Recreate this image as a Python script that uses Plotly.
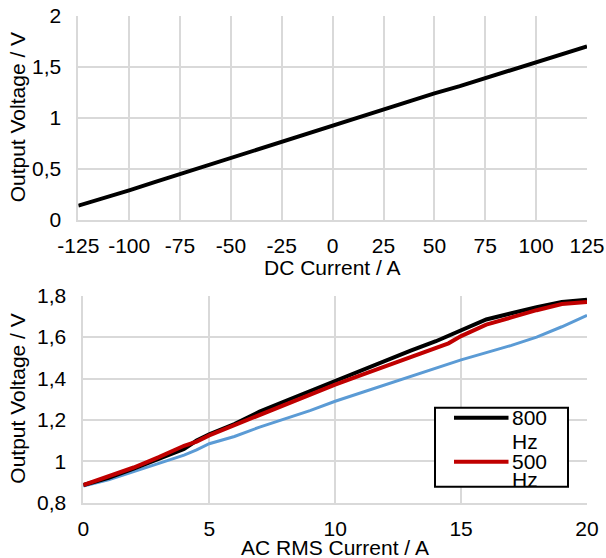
import plotly.graph_objects as go

# ---- Top chart: DC ----
dc_current = [-125, -112.5, -100, -87.5, -75, -62.5, -50, -37.5, -25, -12.5, 0,
              12.5, 25, 37.5, 50, 62.5, 75, 87.5, 100, 112.5, 125]
dc_voltage = [0.14, 0.21, 0.29, 0.37, 0.45, 0.52, 0.60, 0.68, 0.76, 0.84, 0.92,
              1.00, 1.08, 1.16, 1.24, 1.31, 1.39, 1.47, 1.55, 1.63, 1.70]

dc_xticks = [-125, -100, -75, -50, -25, 0, 25, 50, 75, 100, 125]
dc_xticktext = ["-125", "-100", "-75", "-50", "-25", "0", "25", "50", "75", "100", "125"]
dc_yticks = [0, 0.5, 1, 1.5, 2]
dc_yticktext = ["0", "0,5", "1", "1,5", "2"]

# ---- Bottom chart: AC ----
ac_current = [0, 1, 2, 3, 4, 4.5, 5, 6, 7, 8, 9, 10, 11, 12, 13, 14, 14.5, 15, 16, 17, 18, 19, 20]
v_800hz = [0.885, 0.92, 0.965, 1.01, 1.06, 1.10, 1.13, 1.18, 1.24, 1.29, 1.34, 1.39,
           1.44, 1.49, 1.535, 1.58, 1.605, 1.635, 1.685, 1.715, 1.745, 1.77, 1.78]
v_500hz = [0.885, 0.925, 0.97, 1.02, 1.075, 1.095, 1.125, 1.175, 1.225, 1.275, 1.325, 1.37,
           1.415, 1.46, 1.505, 1.545, 1.57, 1.605, 1.66, 1.695, 1.73, 1.76, 1.77]
v_third = [0.88, 0.91, 0.95, 0.99, 1.03, 1.055, 1.085, 1.12, 1.165, 1.205, 1.245, 1.29,
           1.33, 1.37, 1.41, 1.45, 1.47, 1.49, 1.525, 1.56, 1.60, 1.65, 1.705]

ac_xticks = [0, 5, 10, 15, 20]
ac_xticktext = ["0", "5", "10", "15", "20"]
ac_yticks = [0.8, 1.0, 1.2, 1.4, 1.6, 1.8]
ac_yticktext = ["0,8", "1", "1,2", "1,4", "1,6", "1,8"]

legend_labels = [["800", "Hz"], ["500", "Hz"]]
legend_colors = ["black", "#C00000"]

dc_xtitle = "DC Current / A"
ac_xtitle = "AC RMS Current / A"
ytitle = "Output Voltage / V"

W, H = 606, 558
FONT = "Liberation Sans, Arial, sans-serif"
GRID = "#d9d9d9"
FS = 21


def px(x):
    return x / W


def py(y):
    return 1 - y / H


# plot-area pixel boxes (page coordinates)
T_L, T_R, T_T, T_B = 78.3, 587, 15.7, 220
B_L, B_R, B_T, B_B = 83.3, 587, 295.7, 502.7

fig = go.Figure()
fig.add_trace(go.Scatter(x=dc_current, y=dc_voltage, mode="lines",
                         line=dict(color="black", width=4), showlegend=False,
                         xaxis="x", yaxis="y"))
fig.add_trace(go.Scatter(x=ac_current, y=v_third, mode="lines",
                         line=dict(color="#5B9BD5", width=3), showlegend=False,
                         xaxis="x2", yaxis="y2"))
fig.add_trace(go.Scatter(x=ac_current, y=v_800hz, mode="lines", name="800 Hz",
                         line=dict(color="black", width=4), showlegend=False,
                         xaxis="x2", yaxis="y2"))
fig.add_trace(go.Scatter(x=ac_current, y=v_500hz, mode="lines", name="500 Hz",
                         line=dict(color="#C00000", width=4), showlegend=False,
                         xaxis="x2", yaxis="y2"))

ax = dict(showgrid=True, gridcolor=GRID, gridwidth=1.8, showline=True,
          linecolor=GRID, linewidth=1.8, zeroline=False, ticks="", automargin=False,
          ticklabeloverflow="allow",
          tickfont=dict(size=FS, color="black", family=FONT))

# legend box drawn manually (tight line spacing like the original)
LB_L, LB_R, LB_T, LB_B = 435, 568, 407.7, 486.7
leg_line_y = [417.7, 461.7]
leg_text_y = [[417, 441], [461, 479]]
shapes = [dict(type="rect", xref="paper", yref="paper",
               x0=px(LB_L), x1=px(LB_R), y0=py(LB_B), y1=py(LB_T),
               line=dict(color="black", width=2), fillcolor="white", layer="above")]
annotations = []
for i, (lbls, col) in enumerate(zip(legend_labels, legend_colors)):
    shapes.append(dict(type="line", xref="paper", yref="paper",
                       x0=px(454), x1=px(508.5), y0=py(leg_line_y[i]), y1=py(leg_line_y[i]),
                       line=dict(color=col, width=4), layer="above"))
    for j, t in enumerate(lbls):
        annotations.append(dict(text=t, xref="paper", yref="paper", x=px(510),
                                y=py(leg_text_y[i][j]), showarrow=False,
                                xanchor="left", yanchor="middle",
                                font=dict(size=FS, color="black")))

annotations += [
    dict(text=dc_xtitle, xref="paper", yref="paper", x=px((T_L + T_R) / 2),
         y=py(267), showarrow=False, xanchor="center", yanchor="middle",
         font=dict(size=FS)),
    dict(text=ac_xtitle, xref="paper", yref="paper", x=px((B_L + B_R) / 2),
         y=py(547), showarrow=False, xanchor="center", yanchor="middle",
         font=dict(size=FS)),
    dict(text=ytitle, xref="paper", yref="paper", x=px(17.5),
         y=py((T_T + T_B) / 2), showarrow=False, textangle=-90,
         xanchor="center", yanchor="middle", font=dict(size=FS)),
    dict(text=ytitle, xref="paper", yref="paper", x=px(17.5),
         y=py((B_T + B_B) / 2), showarrow=False, textangle=-90,
         xanchor="center", yanchor="middle", font=dict(size=FS)),
]

fig.update_layout(
    width=W, height=H,
    margin=dict(l=0, r=0, t=0, b=0),
    paper_bgcolor="white", plot_bgcolor="white",
    font=dict(family=FONT, color="black"),
    showlegend=False,
    xaxis=dict(domain=[px(T_L), px(T_R)], range=[-125, 125], anchor="y",
               tickvals=dc_xticks, ticktext=dc_xticktext, ticklabelstandoff=6, **ax),
    yaxis=dict(domain=[py(T_B), py(T_T)], range=[0, 2], anchor="x",
               tickvals=dc_yticks, ticktext=dc_yticktext, ticklabelstandoff=11, **ax),
    xaxis2=dict(domain=[px(B_L), px(B_R)], range=[0, 20], anchor="y2",
                tickvals=ac_xticks, ticktext=ac_xticktext, ticklabelstandoff=6, **ax),
    yaxis2=dict(domain=[py(B_B), py(B_T)], range=[0.8, 1.8], anchor="x2",
                tickvals=ac_yticks, ticktext=ac_yticktext, ticklabelstandoff=11, **ax),
    shapes=shapes,
    annotations=annotations,
)

fig.write_html("out.html",
               config={"displayModeBar": False},
               post_script="document.body.style.margin='0';"
                           "document.body.style.overflow='hidden';")
